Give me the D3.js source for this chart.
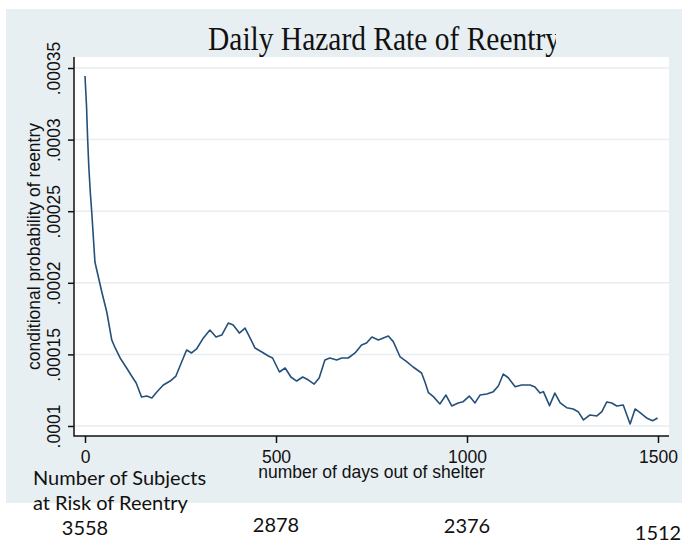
<!DOCTYPE html>
<html>
<head>
<meta charset="utf-8">
<script src="https://cdn.jsdelivr.net/npm/d3@7"></script>
<style>
  body { margin: 0; background: #fff; }
  svg text { fill: #111; }
  .axisTitle, .tick text { font-family: "Liberation Sans", Arial, sans-serif; font-size: 17.5px; }
  .risk { font-family: Lato, "Open Sans", sans-serif; font-size: 20px; }
</style>
</head>
<body>
<div id="chart"></div>
<script>
// days since leaving shelter and smoothed daily hazard of reentry
var days = [0, 4, 7, 10, 14, 18, 24, 26, 44, 57, 70, 79, 92, 109, 122, 134, 148, 162, 175, 188,
  205, 223, 238, 253, 266, 279, 292, 310, 327, 343, 358, 375, 388, 404, 419, 432, 445, 463,
  480, 491, 509, 524, 539, 554, 570, 585, 600, 613, 628, 641, 659, 672, 689, 707, 724, 737,
  751, 768, 781, 794, 807, 825, 842, 859, 881, 890, 899, 912, 929, 945, 960, 977, 990, 1006,
  1021, 1034, 1052, 1069, 1082, 1095, 1108, 1126, 1143, 1165, 1178, 1191, 1200, 1216, 1230,
  1244, 1261, 1278, 1291, 1305, 1322, 1340, 1353, 1366, 1379, 1392, 1409, 1427, 1440, 1453,
  1470, 1486, 1499]
var hazard = [0.0003444, 0.0003235, 0.0002997, 0.0002809, 0.0002627, 0.0002480, 0.0002229,
  0.0002145, 0.0001936, 0.0001796, 0.0001601, 0.0001545, 0.0001475, 0.0001405, 0.0001349,
  0.0001300, 0.0001203, 0.0001209, 0.0001196, 0.0001237, 0.0001286, 0.0001314, 0.0001349,
  0.0001447, 0.0001531, 0.0001510, 0.0001538, 0.0001615, 0.0001670, 0.0001621, 0.0001635,
  0.0001719, 0.0001705, 0.0001649, 0.0001684, 0.0001615, 0.0001545, 0.0001517, 0.0001489,
  0.0001475, 0.0001377, 0.0001405, 0.0001342, 0.0001314, 0.0001342, 0.0001321, 0.0001293,
  0.0001335, 0.0001461, 0.0001475, 0.0001461, 0.0001475, 0.0001475, 0.0001510, 0.0001566,
  0.0001580, 0.0001621, 0.0001601, 0.0001615, 0.0001628, 0.0001589, 0.0001482, 0.0001449,
  0.0001412, 0.0001370, 0.0001307, 0.0001233, 0.0001205, 0.0001154, 0.0001216, 0.0001140,
  0.0001161, 0.0001170, 0.0001209, 0.0001161, 0.0001216, 0.0001223, 0.0001240, 0.0001279,
  0.0001363, 0.0001337, 0.0001274, 0.0001286, 0.0001286, 0.0001272, 0.0001230, 0.0001240,
  0.0001142, 0.0001230, 0.0001161, 0.0001128, 0.0001119, 0.0001100, 0.0001042, 0.0001077,
  0.0001070, 0.0001100, 0.0001168, 0.0001161, 0.0001140, 0.0001147, 0.0001014, 0.0001119,
  0.0001093, 0.0001056, 0.0001037, 0.0001056]

var xTicks = [0, 500, 1000, 1500]
var yTicks = [0.0001, 0.00015, 0.0002, 0.00025, 0.0003, 0.00035]
var yTickLabels = [".0001", ".00015", ".0002", ".00025", ".0003", ".00035"]

// number at risk table under the chart
var riskDays = [0, 500, 1000, 1500]
var riskCounts = [3558, 2878, 2376, 1512]

var fullWidth = 682
var fullHeight = 544
var plot = { left: 74, right: 669, top: 57, bottom: 436 }

var svg = d3.select("#chart").append("svg")
  .attr("width", fullWidth)
  .attr("height", fullHeight)

// graph region
svg.append("rect")
  .attr("x", 6).attr("y", 9)
  .attr("width", 676).attr("height", 494)
  .attr("fill", "#e8eff2")

svg.append("rect")
  .attr("x", plot.left).attr("y", plot.top)
  .attr("width", plot.right - plot.left).attr("height", plot.bottom - plot.top)
  .attr("fill", "#fff")

var x = d3.scaleLinear().domain([0, 1500]).range([85, 658])
var y = d3.scaleLinear().domain([0.0001, 0.00035]).range([426, 68])

// grid
svg.append("g").selectAll("line")
  .data(yTicks)
  .enter().append("line")
  .attr("x1", plot.left).attr("x2", plot.right)
  .attr("y1", d => y(d)).attr("y2", d => y(d))
  .attr("stroke", "#e6eef1")
  .attr("stroke-width", 1.5)

// the hazard line
var points = days.map((d, i) => [d, hazard[i]])
svg.append("path")
  .datum(points)
  .attr("fill", "none")
  .attr("stroke", "#24507a")
  .attr("stroke-width", 1.6)
  .attr("stroke-linejoin", "round")
  .attr("d", d3.line().x(d => x(d[0])).y(d => y(d[1])))

// y-axis
var yAxis = svg.append("g")
  .attr("transform", `translate(${plot.left},0)`)
  .call(d3.axisLeft(y)
    .tickValues(yTicks)
    .tickSize(6)
    .tickPadding(0)
    .tickFormat((d, i) => yTickLabels[i]))
yAxis.select(".domain").remove()
yAxis.selectAll(".tick line").attr("stroke", "#111").attr("stroke-width", 1.5)
yAxis.selectAll(".tick text")
  .attr("x", 0).attr("dy", null)
  .attr("transform", "translate(-14,0) rotate(-90)")
  .attr("text-anchor", "middle")
  .attr("dominant-baseline", "auto")

// x-axis
var xAxis = svg.append("g")
  .attr("transform", `translate(0,${plot.bottom})`)
  .call(d3.axisBottom(x)
    .tickValues(xTicks)
    .tickSize(7)
    .tickPadding(0)
    .tickFormat(d3.format("d")))
xAxis.select(".domain").remove()
xAxis.selectAll(".tick line").attr("stroke", "#111").attr("stroke-width", 1.5)
xAxis.selectAll(".tick text").attr("y", 27).attr("dy", null)

// axis lines along the plot region edges
svg.append("path")
  .attr("d", `M${plot.left},${plot.top}V${plot.bottom}H${plot.right}`)
  .attr("fill", "none")
  .attr("stroke", "#111")
  .attr("stroke-width", 1.5)

// axis titles
svg.append("text")
  .attr("class", "axisTitle")
  .attr("x", (plot.left + plot.right) / 2)
  .attr("y", 478)
  .attr("text-anchor", "middle")
  .text("number of days out of shelter")

svg.append("text")
  .attr("class", "axisTitle")
  .attr("transform", `translate(40,${(plot.top + plot.bottom) / 2}) rotate(-90)`)
  .attr("text-anchor", "middle")
  .text("conditional probability of reentry")

// chart title, cut at the right like the source
svg.append("clipPath").attr("id", "titleClip")
  .append("rect").attr("x", 0).attr("y", 0).attr("width", 556).attr("height", 60)

svg.append("text")
  .attr("clip-path", "url(#titleClip)")
  .attr("x", 208)
  .attr("y", 50)
  .attr("textLength", 352)
  .attr("lengthAdjust", "spacingAndGlyphs")
  .style("font-family", "'Liberation Serif', 'Times New Roman', serif")
  .style("font-size", "34px")
  .text("Daily Hazard Rate of Reentry")

// number at risk
svg.append("text")
  .attr("class", "risk")
  .attr("x", 33).attr("y", 485)
  .text("Number of Subjects")
svg.append("text")
  .attr("class", "risk")
  .attr("x", 33).attr("y", 510)
  .text("at Risk of Reentry")

var riskDy = [0, -3, -2, 5]
svg.append("g").selectAll("text")
  .data(riskCounts)
  .enter().append("text")
  .attr("class", "risk")
  .attr("x", (d, i) => x(riskDays[i]))
  .attr("y", (d, i) => 535 + riskDy[i])
  .attr("text-anchor", "middle")
  .text(d => d)
</script>
</body>
</html>
